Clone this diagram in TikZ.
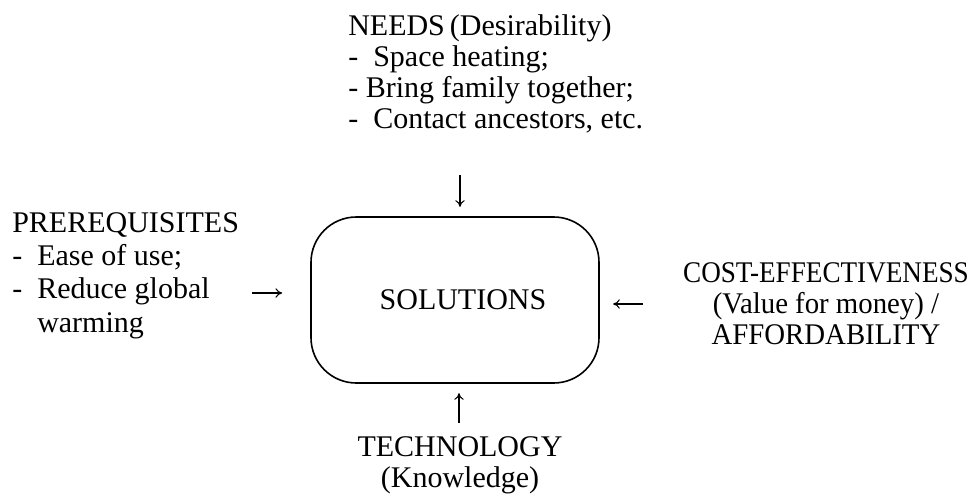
\documentclass[tikz,border=0pt]{standalone}
\usepackage{fontspec}
\setmainfont{Liberation Serif}
\usetikzlibrary{arrows.meta}
\tikzset{
  txt/.style={inner sep=0pt, font=\fontsize{22.5}{23.25}\selectfont},
  flow/.style={-{To[length=5pt,width=7pt]}, line width=0.8pt},
}
\begin{document}
\begin{tikzpicture}[x=0.75pt,y=-0.75pt]
  \useasboundingbox (0,0) rectangle (976,497);
  % centre box
  \node[txt, draw, line width=1.2pt, rounded corners=34pt,
        minimum width=216pt, minimum height=124.5pt] at (455,300) (sol) {\hspace{12pt}SOLUTIONS};
  % the four factors
  \node[txt, align=left, anchor=north west] at (348,14) (needs)
    {NEEDS\,(Desirability)\\-\ \ Space heating;\\-\ Bring family together;\\-\ \ Contact ancestors, etc.};
  \node[txt, font=\fontsize{22.5}{25}\selectfont, align=left, anchor=north west] at (12,212) (prereq)
    {PREREQUISITES\\-\ \ Ease of use;\\-\ \ Reduce global\\\phantom{-\ \ }warming};
  \node[txt, align=center, anchor=north] at (826,262) (cost)
    {\scalebox{0.905}[1]{COST-EFFECTIVENESS}\\\scalebox{0.96}[1]{(Value for money) /}\\\scalebox{0.96}[1]{AFFORDABILITY}};
  \node[txt, align=center, anchor=north] at (460,436) (tech)
    {TECHNOLOGY\\(Knowledge)};
  % arrows into the box
  \coordinate (nt) at (460,175);
  \coordinate (pt) at (252,293);
  \coordinate (ct) at (643,304);
  \coordinate (tt) at (459,423);
  \draw[flow, shorten >=7pt] (nt) -- (nt |- sol.north);
  \draw[flow, shorten >=21pt] (pt) -- (pt -| sol.west);
  \draw[flow, shorten >=10pt] (ct) -- (ct -| sol.east);
  \draw[flow, shorten >=7pt] (tt) -- (tt |- sol.south);
\end{tikzpicture}
\end{document}
